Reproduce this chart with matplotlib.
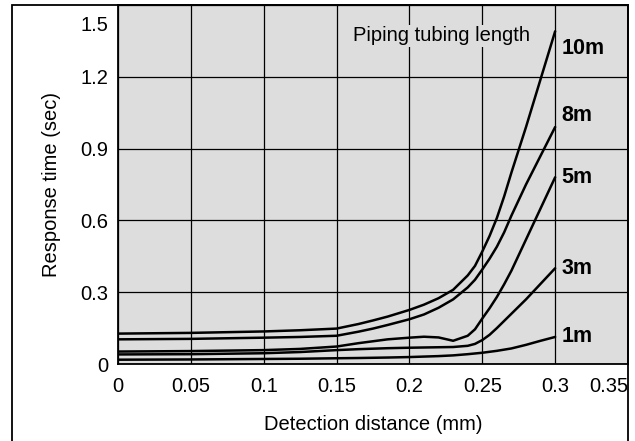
import matplotlib
matplotlib.use("Agg")
import matplotlib.pyplot as plt
from matplotlib.patches import Rectangle

plt.rcParams['font.family'] = ['Liberation Sans', 'DejaVu Sans']

distance = [0, 0.05, 0.1, 0.125, 0.15, 0.165, 0.175, 0.185, 0.2, 0.21, 0.22, 0.23, 0.24, 0.245,
            0.25, 0.255, 0.26, 0.265, 0.27, 0.28, 0.29, 0.3]
resp_10m = [0.127, 0.130, 0.136, 0.141, 0.148, 0.167, 0.182, 0.198, 0.226, 0.248, 0.275, 0.310, 0.370, 0.410,
            0.470, 0.535, 0.610, 0.700, 0.800, 0.990, 1.190, 1.390]
resp_8m = [0.103, 0.105, 0.110, 0.113, 0.118, 0.135, 0.148, 0.163, 0.187, 0.207, 0.235, 0.270, 0.320, 0.352,
           0.395, 0.440, 0.490, 0.550, 0.620, 0.750, 0.870, 0.990]
resp_5m = [0.052, 0.054, 0.058, 0.063, 0.073, 0.087, 0.095, 0.103, 0.110, 0.114, 0.111, 0.097, 0.118, 0.145,
           0.190, 0.233, 0.280, 0.333, 0.390, 0.520, 0.650, 0.780]
resp_3m = [0.040, 0.041, 0.045, 0.050, 0.058, 0.062, 0.064, 0.066, 0.068, 0.069, 0.070, 0.071, 0.076, 0.084,
           0.100, 0.122, 0.150, 0.180, 0.210, 0.270, 0.335, 0.400]
resp_1m = [0.018, 0.019, 0.021, 0.022, 0.024, 0.025, 0.026, 0.027, 0.029, 0.031, 0.033, 0.036, 0.041, 0.044,
           0.047, 0.051, 0.055, 0.060, 0.065, 0.080, 0.097, 0.113]
series_labels = ['10m', '8m', '5m', '3m', '1m']
label_y = [1.32, 1.04, 0.78, 0.40, 0.113]

x_ticks = [0, 0.05, 0.1, 0.15, 0.2, 0.25, 0.3, 0.35]
x_ticklabels = ['0', '0.05', '0.1', '0.15', '0.2', '0.25', '0.3', '0.35']
y_ticks = [0, 0.3, 0.6, 0.9, 1.2, 1.5]
y_ticklabels = ['0', '0.3', '0.6', '0.9', '1.2', '1.5']

fig = plt.figure(figsize=(6.35, 4.41), dpi=100)
ax = fig.add_axes([118/635, 1 - 364/441, (628-118)/635, (364-5)/441])
ax.set_facecolor('#dddddd')

series = [resp_10m, resp_8m, resp_5m, resp_3m, resp_1m]
for ys in series:
    ax.plot(distance, ys, color='black', lw=1.8, solid_capstyle='round', solid_joinstyle='round', zorder=3)

ax.set_xlim(0, 0.35)
ax.set_ylim(0, 1.5)
ax.set_xticks(x_ticks)
ax.set_xticklabels(x_ticklabels)
ax.set_yticks(y_ticks)
# top label drawn separately, shifted below the top edge as in the reference
ax.set_yticklabels(y_ticklabels[:-1] + [''])
ax.tick_params(length=0, labelsize=14.5, pad=9)
ax.tick_params(axis='y', pad=7)
xl = ax.get_xticklabels()
xl[-1].set_horizontalalignment('right')

ax.annotate(y_ticklabels[-1], xy=(0, y_ticks[-1]), xycoords='data',
            xytext=(-7, -8), textcoords='offset points', ha='right', va='top', fontsize=14.5)

ax.grid(True, color='black', lw=0.9)
ax.set_axisbelow(True)
for s in ax.spines.values():
    s.set_color('black')
    s.set_linewidth(1.3)

ax.set_xlabel('Detection distance (mm)', fontsize=14.5, labelpad=14)
ax.set_ylabel('Response time (sec)', fontsize=14.5, labelpad=14)

for lab, yv in zip(series_labels, label_y):
    ax.text(0.3045, yv, lab, fontsize=15.5, fontweight='bold', va='center', ha='left', zorder=4)

ax.text(0.161, 1.372, 'Piping tubing length', fontsize=14.5, va='center', ha='left', zorder=4,
        bbox=dict(facecolor='#dddddd', edgecolor='none', pad=1))

# outer frame
fig.add_artist(Rectangle((12/635, -0.05), (628-12)/635, 1.05 - 5/441, transform=fig.transFigure,
                         fill=False, edgecolor='black', lw=1.3))

fig.savefig('out.png', dpi=100)
